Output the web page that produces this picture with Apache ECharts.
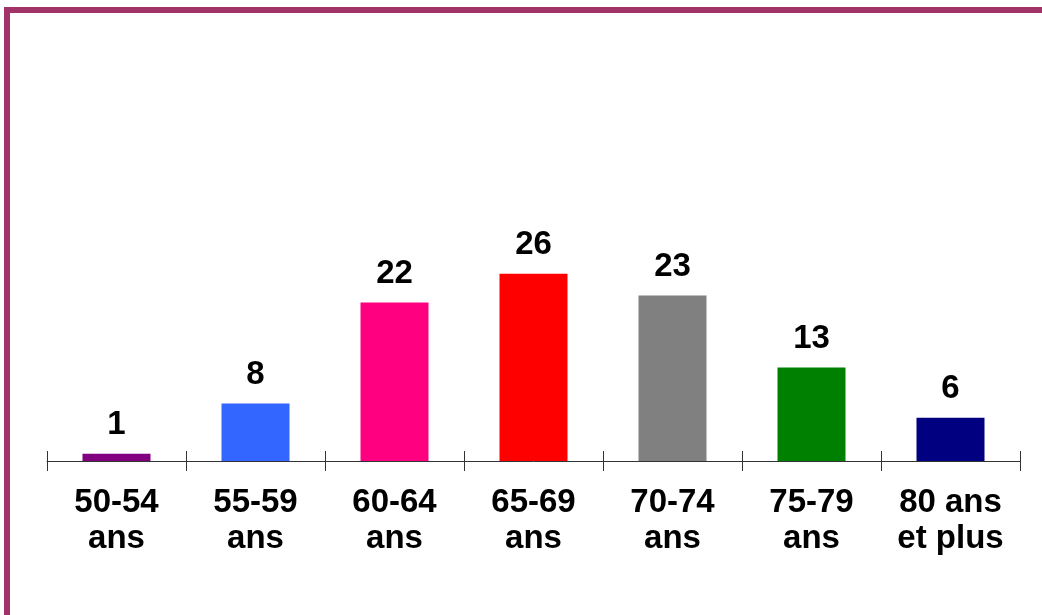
<!DOCTYPE html>
<html>
<head>
<meta charset="utf-8">
<script src="https://cdn.jsdelivr.net/npm/echarts@6/dist/echarts.min.js"></script>
<style>
html,body{margin:0;padding:0;background:#fff;width:1042px;height:615px;overflow:hidden;}
#frame{position:absolute;left:4px;top:7px;right:0;bottom:0;border-left:6px solid #A23368;border-top:6px solid #A23368;}
#chart{position:absolute;left:0;top:0;width:1042px;height:615px;}
</style>
</head>
<body>
<div id="frame"></div>
<div id="chart"></div>
<script>
var categories = ['50-54\nans', '55-59\nans', '60-64\nans', '65-69\nans', '70-74\nans', '75-79\nans', '80 ans\net plus'];
var values = [1, 8, 22, 26, 23, 13, 6];
var colors = ['#800080', '#3366FF', '#FF0080', '#FF0000', '#808080', '#008000', '#000080'];

var chart = echarts.init(document.getElementById('chart'), null, {renderer: 'canvas'});
var font = 'Liberation Sans, Arial, sans-serif';
chart.setOption({
  backgroundColor: 'transparent',
  animation: false,
  grid: {left: 47, right: 22, top: 101, bottom: 154, containLabel: false},
  xAxis: [{
    type: 'category',
    data: categories,
    position: 'bottom',
    axisLine: {show: true, lineStyle: {color: '#333', width: 1}},
    axisTick: {show: true, length: 10, lineStyle: {color: '#333'}},
    axisLabel: {
      interval: 0,
      margin: 24,
      color: '#000',
      fontFamily: font,
      fontWeight: 'bold',
      fontSize: 33,
      lineHeight: 36
    },
    splitLine: {show: false}
  }, {
    type: 'category',
    data: categories,
    position: 'bottom',
    axisLine: {show: false},
    axisTick: {show: true, inside: true, length: 10, lineStyle: {color: '#333'}},
    axisLabel: {show: false},
    splitLine: {show: false}
  }],
  yAxis: {
    type: 'value',
    min: 0,
    max: 50,
    show: false,
    splitLine: {show: false}
  },
  series: [{
    type: 'bar',
    xAxisIndex: 0,
    data: values.map(function (v, i) { return {value: v, itemStyle: {color: colors[i]}}; }),
    barWidth: 68,
    label: {
      show: true,
      position: 'top',
      distance: 12,
      color: '#000',
      fontFamily: font,
      fontWeight: 'bold',
      fontSize: 33
    }
  }]
});
</script>
</body>
</html>
